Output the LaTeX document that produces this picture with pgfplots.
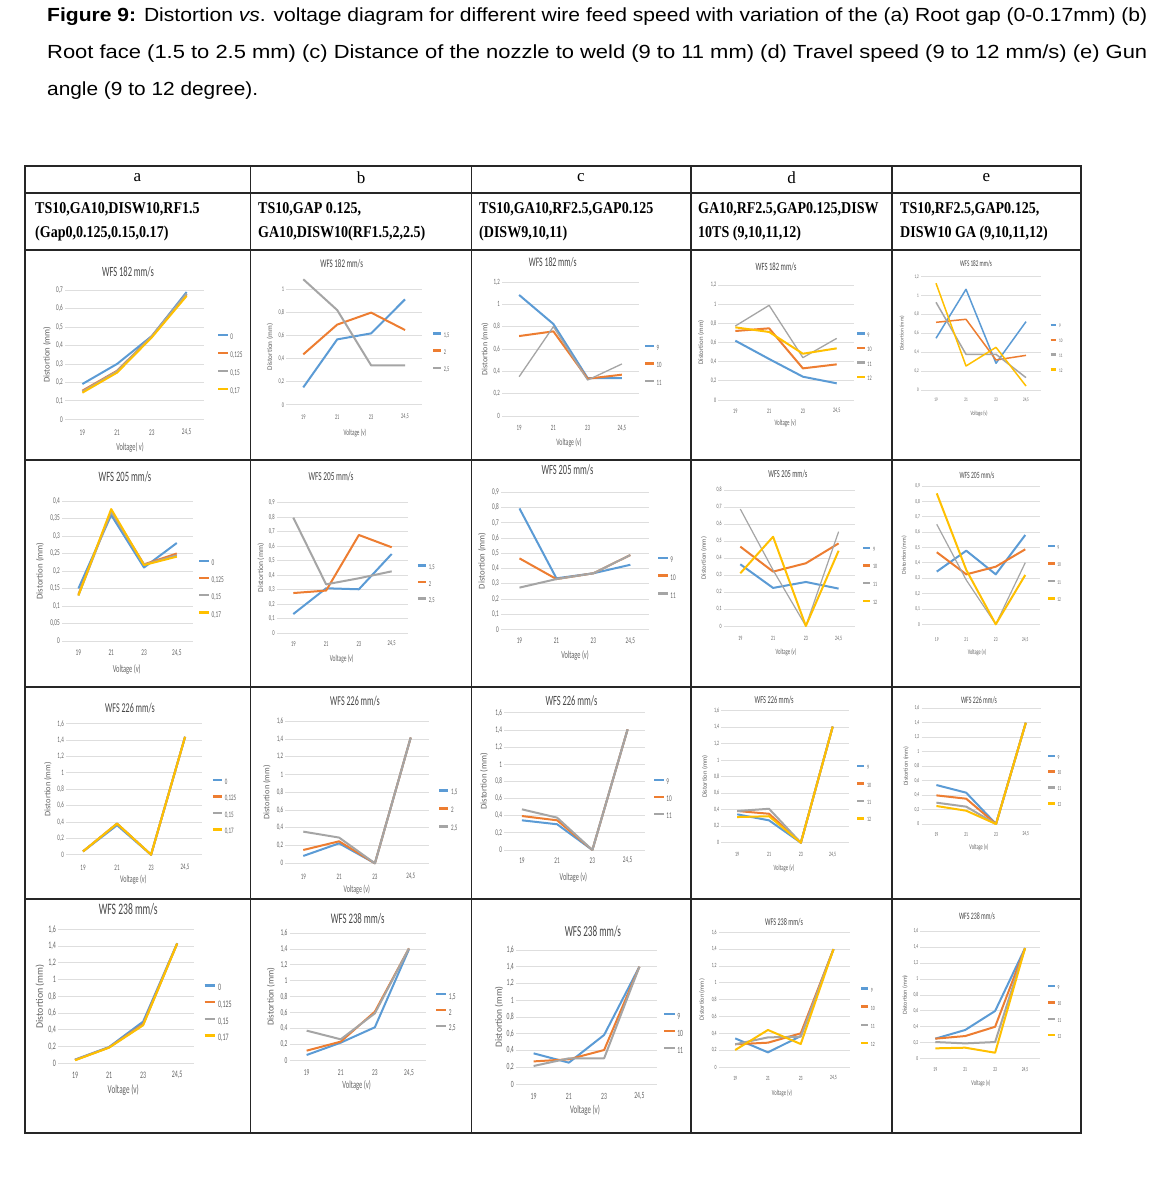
\documentclass[border=0pt]{standalone}
\usepackage{fontspec}
\usepackage{graphicx}
\usepackage{pgfplots}
\pgfplotsset{compat=1.18}
\setmainfont{Liberation Sans}
\newfontfamily\chartfont[FakeStretch=0.6]{Carlito}
\newfontfamily\labfont{Carlito}
\newfontfamily\hdrfont[FakeStretch=0.85]{Liberation Serif}
\newfontfamily\serifreg{Liberation Serif}
\newfontfamily\capfont{Liberation Sans}
\definecolor{xblue}{RGB}{91,155,213}
\definecolor{xorange}{RGB}{237,125,49}
\definecolor{xgray}{RGB}{165,165,165}
\definecolor{xyellow}{RGB}{255,192,0}
\definecolor{tickc}{RGB}{100,100,100}

\newcommand\setchart[6]{%
 \def\cL{#1}\def\cR{#2}\def\cB{#3}\def\cT{#4}\def\cS{#5}%
 \pgfmathsetmacro\cW{#2-#1}\pgfmathsetmacro\cH{#3-#4}%
 \pgfmathsetmacro\cM{(#3+#4)/2}%
 \pgfmathsetmacro\cTick{0.62*#5}%
 \pgfmathsetmacro\cXl{0.75*#5}%
 \pgfmathsetmacro\cYl{0.62*#5}%
 \pgfmathsetmacro\cXs{#6-#3}%
 \pgfmathsetmacro\cTh{0.65*\cTick}\pgfmathsetmacro\cTd{0.15*\cTick}%
 \pgfmathsetmacro\cLl{0.68*#5}\pgfmathsetmacro\cLy{0.28*\cTick}%
}
\newcommand\cleg[3]{%
 \pgfmathsetmacro\lx{(#1-\cL)/\cW}%
 \pgfmathsetmacro\ly{(\cB-(#2-0.4*\cTick))/\cH}%
 \pgfmathsetmacro\lrs{#3-0.8*\cTick}%
}
\newcommand\ctitle[3]{\node[inner sep=0pt,font=\chartfont\fontsize{\cS}{\cS}\selectfont,text=black!72] at (#1pt,-#2pt) {#3};}
\newcommand\cylab[1]{\node[inner sep=0pt,rotate=90,font=\labfont\fontsize{\cYl}{\cYl}\selectfont,text=tickc] at (#1pt,-\cM pt) {Distortion (mm)};}
\newcommand\cxlab[3]{\node[inner sep=0pt,font=\chartfont\fontsize{\cXl}{\cXl}\selectfont,text=tickc] at (#1pt,-#2pt) {#3};}

\pgfplotsset{ch/.style={
  scale only axis, anchor=south west,
  at={(\cL pt,-\cB pt)}, width=\cW pt, height=\cH pt,
  xmin=-0.5, xmax=3.5, ymin=0,
  xtick={0,1,2,3}, xticklabels={19,21,23,{24,5}},
  ymajorgrids, major grid style={draw=black!13, line width=0.7pt},
  axis line style={draw=none}, tick style={draw=none},
  clip=false,
  ticklabel style={font=\chartfont\fontsize{\cTick}{\cTick}\selectfont, text=tickc},
  xticklabel style={anchor=center, yshift=-\cXs pt},
  yticklabel style={anchor=east, inner sep=2pt},
  /pgf/number format/use comma, /pgf/number format/fixed,
  /pgf/number format/precision=2, /pgf/number format/assume math mode=true,
  legend style={at={(\lx,\ly)}, anchor=north west, draw=none, fill=none,
    inner sep=0pt, outer sep=0pt, row sep=\lrs pt, column sep=1.5pt,
    font=\chartfont\fontsize{\cTick}{\cTick}\selectfont, text=tickc,
    nodes={inner sep=0pt, text height=\cTh pt, text depth=\cTd pt}},
  legend cell align=left,
  legend image code/.code={\draw[##1,line width=2.4pt] (0pt,\cLy pt)--(\cLl pt,\cLy pt);},
  every axis plot/.append style={line width=2pt, mark=none, line join=round},
}}

\begin{document}
\begin{tikzpicture}
\useasboundingbox[fill=white] (0pt,0pt) rectangle (1165pt,-1185pt);

% caption
\node[anchor=base west, inner sep=0pt, font=\capfont\fontsize{19}{19}\selectfont] at (47pt,-22pt)
 {\resizebox{1100pt}{\height}{\textbf{Figure 9:} Distortion \textit{vs}. voltage diagram for different wire feed speed with variation of the (a) Root gap (0-0.17mm) (b)}};
\node[anchor=base west, inner sep=0pt, font=\capfont\fontsize{19}{19}\selectfont] at (47pt,-59pt)
 {\resizebox{1100pt}{\height}{Root face (1.5 to 2.5 mm) (c) Distance of the nozzle to weld (9 to 11 mm) (d) Travel speed (9 to 12 mm/s) (e) Gun}};
\node[anchor=base west, inner sep=0pt, font=\capfont\fontsize{19}{19}\selectfont] at (47pt,-96pt)
 {\resizebox{211pt}{\height}{angle (9 to 12 degree).}};

% table
\begin{scope}[line width=1.1pt, draw=black!85]
\draw (25pt,-166pt) rectangle (1081pt,-1133pt);
\foreach \yy in {193,250,460,687,899} \draw (25pt,-\yy pt) -- (1081pt,-\yy pt);
\foreach \xx in {250.5,471.5,691,892} \draw (\xx pt,-166pt) -- (\xx pt,-1133pt);
\end{scope}
\foreach \xx/\tt in {137.5/a,361/b,581/c,791.5/d,986.5/e}
  \node[font=\serifreg\fontsize{17}{17}\selectfont] at (\xx pt,-178pt) {\tt};
\begin{scope}[every node/.style={anchor=base west, inner sep=0pt, font=\hdrfont\bfseries\fontsize{16.5}{16.5}\selectfont}]
\node at (35pt,-213pt) {TS10,GA10,DISW10,RF1.5};
\node at (35pt,-237pt) {(Gap0,0.125,0.15,0.17)};
\node at (258pt,-213pt) {TS10,GAP 0.125,};
\node at (258pt,-237pt) {GA10,DISW10(RF1.5,2,2.5)};
\node at (479pt,-213pt) {TS10,GA10,RF2.5,GAP0.125};
\node at (479pt,-237pt) {(DISW9,10,11)};
\node at (698pt,-213pt) {GA10,RF2.5,GAP0.125,DISW};
\node at (698pt,-237pt) {10TS (9,10,11,12)};
\node at (900pt,-213pt) {TS10,RF2.5,GAP0.125,};
\node at (900pt,-237pt) {DISW10 GA (9,10,11,12)};
\end{scope}

%%%%%%%%%%%%%%%% ROW 1
% a1
\setchart{65}{204}{419.3}{290}{14.1}{432.7}\cleg{217}{337}{18}
\begin{axis}[ch, ymax=0.7, ytick={0,0.1,0.2,0.3,0.4,0.5,0.6,0.7}]
\addplot[xblue] coordinates {(0,0.191)(1,0.300)(2,0.451)(3,0.689)};
\addplot[xorange] coordinates {(0,0.155)(1,0.263)(2,0.450)(3,0.677)};
\addplot[xgray] coordinates {(0,0.150)(1,0.260)(2,0.450)(3,0.680)};
\addplot[xyellow] coordinates {(0,0.144)(1,0.253)(2,0.444)(3,0.668)};
\legend{0,{0,125},{0,15},{0,17}}
\end{axis}
\ctitle{128}{272}{WFS 182 mm/s}\cylab{47}\cxlab{130}{448}{Voltage( v)}

% b1
\setchart{286.3}{422}{404.7}{289.3}{11.6}{416.7}\cleg{432}{335}{17}
\begin{axis}[ch, ymax=1, ytick={0,0.2,0.4,0.6,0.8,1}]
\addplot[xblue] coordinates {(0,0.150)(1,0.566)(2,0.618)(3,0.913)};
\addplot[xorange] coordinates {(0,0.436)(1,0.694)(2,0.798)(3,0.647)};
\addplot[xgray] coordinates {(0,1.087)(1,0.820)(2,0.341)(3,0.341)};
\legend{{1,5},2,{2,5}}
\end{axis}
\ctitle{341.7}{264}{WFS 182 mm/s}\cylab{270}\cxlab{355}{432.7}{Voltage (v)}

% c1
\setchart{502}{639}{416}{282}{13}{428.3}\cleg{644}{348.3}{17}
\begin{axis}[ch, ymax=1.2, ytick={0,0.2,0.4,0.6,0.8,1,1.2}]
\addplot[xblue] coordinates {(0,1.084)(1,0.824)(2,0.340)(3,0.340)};
\addplot[xorange] coordinates {(0,0.716)(1,0.758)(2,0.334)(3,0.370)};
\addplot[xgray, line width=1.3pt] coordinates {(0,0.352)(1,0.800)(2,0.322)(3,0.466)};
\legend{9,10,11}
\end{axis}
\ctitle{552.7}{262.7}{WFS 182 mm/s}\cylab{485}\cxlab{569}{442.7}{Voltage (v)}

% d1
\setchart{718.4}{853.6}{400}{285}{11.1}{411}\cleg{856}{335}{14.2}
\begin{axis}[ch, ymax=1.2, ytick={0,0.2,0.4,0.6,0.8,1,1.2}]
\addplot[xblue] coordinates {(0,0.619)(1,0.428)(2,0.243)(3,0.174)};
\addplot[xorange] coordinates {(0,0.720)(1,0.748)(2,0.330)(3,0.372)};
\addplot[xgray, line width=1.3pt] coordinates {(0,0.772)(1,0.988)(2,0.442)(3,0.643)};
\addplot[xyellow] coordinates {(0,0.758)(1,0.710)(2,0.483)(3,0.539)};
\legend{9,10,11,12}
\end{axis}
\ctitle{776}{267}{WFS 182 mm/s}\cylab{701}\cxlab{785.3}{423.3}{Voltage (v)}

% e1
\setchart{921}{1041}{390}{276.7}{8.7}{400}\cleg{1049.3}{326}{14.2}
\begin{axis}[ch, ymax=1.2, ytick={0,0.2,0.4,0.6,0.8,1,1.2}, every axis plot/.append style={line width=1.5pt}]
\addplot[xblue] coordinates {(0,0.548)(1,1.067)(2,0.283)(3,0.724)};
\addplot[xorange] coordinates {(0,0.717)(1,0.749)(2,0.318)(3,0.367)};
\addplot[xgray] coordinates {(0,0.929)(1,0.378)(2,0.378)(3,0.131)};
\addplot[xyellow] coordinates {(0,1.131)(1,0.254)(2,0.452)(3,0.042)};
\legend{9,10,11,12}
\end{axis}
\ctitle{976}{264}{WFS 182 mm/s}\cylab{902}\cxlab{979}{413.3}{Voltage (v)}

%%%%%%%%%%%%%%%% ROW 2
% a2
\setchart{62}{193.2}{641}{501}{14.3}{652.7}\cleg{198}{563.3}{17}
\begin{axis}[ch, ymax=0.4, ytick={0,0.05,0.1,0.15,0.2,0.25,0.3,0.35,0.4}]
\addplot[xblue] coordinates {(0,0.150)(1,0.360)(2,0.210)(3,0.280)};
\addplot[xorange] coordinates {(0,0.133)(1,0.371)(2,0.219)(3,0.250)};
\addplot[xgray] coordinates {(0,0.130)(1,0.370)(2,0.218)(3,0.245)};
\addplot[xyellow] coordinates {(0,0.130)(1,0.377)(2,0.217)(3,0.241)};
\legend{0,{0,125},{0,15},{0,17}}
\end{axis}
\ctitle{125}{477.3}{WFS 205 mm/s}\cylab{40}\cxlab{126.7}{669.3}{Voltage (v)}

% b2
\setchart{276.9}{408.1}{633}{502.7}{12.2}{644}\cleg{416.7}{567.3}{16.3}
\begin{axis}[ch, ymax=0.9, ytick={0,0.1,0.2,0.3,0.4,0.5,0.6,0.7,0.8,0.9}]
\addplot[xblue] coordinates {(0,0.131)(1,0.309)(2,0.302)(3,0.546)};
\addplot[xorange] coordinates {(0,0.276)(1,0.293)(2,0.677)(3,0.592)};
\addplot[xgray] coordinates {(0,0.797)(1,0.336)(2,0.378)(3,0.426)};
\legend{{1,5},2,{2,5}}
\end{axis}
\ctitle{331}{476.7}{WFS 205 mm/s}\cylab{261}\cxlab{341.7}{659}{Voltage (v)}

% c2
\setchart{501}{648.8}{629.3}{492.3}{14.1}{641}\cleg{657}{560}{17.7}
\begin{axis}[ch, ymax=0.9, ytick={0,0.1,0.2,0.3,0.4,0.5,0.6,0.7,0.8,0.9}]
\addplot[xblue] coordinates {(0,0.794)(1,0.335)(2,0.368)(3,0.424)};
\addplot[xorange] coordinates {(0,0.466)(1,0.330)(2,0.368)(3,0.488)};
\addplot[xgray] coordinates {(0,0.274)(1,0.330)(2,0.368)(3,0.488)};
\legend{9,10,11}
\end{axis}
\ctitle{567.5}{470}{WFS 205 mm/s}\cylab{482}\cxlab{575}{656}{Voltage (v)}

% d2
\setchart{723.9}{855}{626}{490}{10.6}{638.7}\cleg{862}{549.3}{17.2}
\begin{axis}[ch, ymax=0.8, ytick={0,0.1,0.2,0.3,0.4,0.5,0.6,0.7,0.8}]
\addplot[xblue] coordinates {(0,0.363)(1,0.224)(2,0.259)(3,0.220)};
\addplot[xorange] coordinates {(0,0.467)(1,0.320)(2,0.369)(3,0.486)};
\addplot[xgray, line width=1.2pt] coordinates {(0,0.688)(1,0.329)(2,0)(3,0.555)};
\addplot[xyellow] coordinates {(0,0.310)(1,0.525)(2,0)(3,0.443)};
\legend{9,10,11,12}
\end{axis}
\ctitle{787.9}{474}{WFS 205 mm/s}\cylab{704}\cxlab{786}{652.7}{Voltage (v)}

% e2
\setchart{922}{1040}{624.3}{486}{9.5}{640}\cleg{1047}{547.3}{17}
\begin{axis}[ch, ymax=0.9, ytick={0,0.1,0.2,0.3,0.4,0.5,0.6,0.7,0.8,0.9}]
\addplot[xblue] coordinates {(0,0.343)(1,0.479)(2,0.325)(3,0.581)};
\addplot[xorange] coordinates {(0,0.469)(1,0.325)(2,0.375)(3,0.488)};
\addplot[xgray, line width=1.2pt] coordinates {(0,0.651)(1,0.288)(2,0)(3,0.401)};
\addplot[xyellow] coordinates {(0,0.852)(1,0.354)(2,0)(3,0.321)};
\legend{9,10,11,12}
\end{axis}
\ctitle{977}{475}{WFS 205 mm/s}\cylab{904}\cxlab{977}{652.7}{Voltage (v)}

%%%%%%%%%%%%%%%% ROW 3
% a3
\setchart{66}{202.1}{854.7}{723.7}{13.5}{867.7}\cleg{211.7}{782}{16.3}
\begin{axis}[ch, ymax=1.6, ytick={0,0.2,0.4,0.6,0.8,1,1.2,1.4,1.6}]
\addplot[xblue] coordinates {(0,0.040)(1,0.360)(2,0)(3,1.440)};
\addplot[xorange] coordinates {(0,0.040)(1,0.380)(2,0)(3,1.440)};
\addplot[xgray] coordinates {(0,0.040)(1,0.380)(2,0)(3,1.440)};
\addplot[xyellow] coordinates {(0,0.040)(1,0.380)(2,0)(3,1.440)};
\legend{0,{0,125},{0,15},{0,17}}
\end{axis}
\ctitle{130}{707.7}{WFS 226 mm/s}\cylab{48}\cxlab{133.3}{879.3}{Voltage (v)}

% b3
\setchart{285.4}{428.6}{863.3}{721.3}{13.5}{876.7}\cleg{438}{792.7}{17.7}
\begin{axis}[ch, ymax=1.6, ytick={0,0.2,0.4,0.6,0.8,1,1.2,1.4,1.6}]
\addplot[xblue] coordinates {(0,0.083)(1,0.225)(2,0)(3,1.417)};
\addplot[xorange] coordinates {(0,0.150)(1,0.248)(2,0)(3,1.417)};
\addplot[xgray] coordinates {(0,0.357)(1,0.290)(2,0)(3,1.417)};
\legend{{1,5},2,{2,5}}
\end{axis}
\ctitle{355}{701}{WFS 226 mm/s}\cylab{267}\cxlab{356.7}{890}{Voltage (v)}

% c3
\setchart{504.3}{645.2}{850}{712.7}{14.1}{860.3}\cleg{653}{782}{17}
\begin{axis}[ch, ymax=1.6, ytick={0,0.2,0.4,0.6,0.8,1,1.2,1.4,1.6}]
\addplot[xblue] coordinates {(0,0.346)(1,0.300)(2,0)(3,1.406)};
\addplot[xorange] coordinates {(0,0.396)(1,0.346)(2,0)(3,1.406)};
\addplot[xgray] coordinates {(0,0.474)(1,0.377)(2,0)(3,1.406)};
\legend{9,10,11}
\end{axis}
\ctitle{571.4}{701}{WFS 226 mm/s}\cylab{484}\cxlab{573.4}{877.7}{Voltage (v)}

% d3
\setchart{721.3}{848.6}{842.7}{710.3}{10.6}{854.3}\cleg{856}{767.7}{17}
\begin{axis}[ch, ymax=1.6, ytick={0,0.2,0.4,0.6,0.8,1,1.2,1.4,1.6}]
\addplot[xblue] coordinates {(0,0.343)(1,0.270)(2,0)(3,1.403)};
\addplot[xorange] coordinates {(0,0.383)(1,0.350)(2,0)(3,1.403)};
\addplot[xgray] coordinates {(0,0.383)(1,0.410)(2,0)(3,1.403)};
\addplot[xyellow] coordinates {(0,0.310)(1,0.320)(2,0)(3,1.403)};
\legend{9,10,11,12}
\end{axis}
\ctitle{774.2}{700}{WFS 226 mm/s}\cylab{705}\cxlab{784}{868.7}{Voltage (v)}

% e3
\setchart{921.5}{1040.7}{824}{708.3}{9.8}{834.3}\cleg{1047}{757}{15.4}
\begin{axis}[ch, ymax=1.6, ytick={0,0.2,0.4,0.6,0.8,1,1.2,1.4,1.6}]
\addplot[xblue] coordinates {(0,0.539)(1,0.433)(2,0)(3,1.400)};
\addplot[xorange] coordinates {(0,0.396)(1,0.350)(2,0)(3,1.400)};
\addplot[xgray] coordinates {(0,0.295)(1,0.240)(2,0)(3,1.400)};
\addplot[xyellow] coordinates {(0,0.249)(1,0.184)(2,0)(3,1.400)};
\legend{9,10,11,12}
\end{axis}
\ctitle{979}{700}{WFS 226 mm/s}\cylab{906}\cxlab{979}{847.7}{Voltage (v)}

%%%%%%%%%%%%%%%% ROW 4
% a4
\setchart{58}{194.2}{1063.3}{929.3}{16}{1075}\cleg{203.3}{988.3}{16.7}
\begin{axis}[ch, ymax=1.6, ytick={0,0.2,0.4,0.6,0.8,1,1.2,1.4,1.6}]
\addplot[xblue] coordinates {(0,0.044)(1,0.195)(2,0.498)(3,1.434)};
\addplot[xorange] coordinates {(0,0.040)(1,0.190)(2,0.470)(3,1.430)};
\addplot[xgray] coordinates {(0,0.040)(1,0.190)(2,0.460)(3,1.430)};
\addplot[xyellow] coordinates {(0,0.036)(1,0.187)(2,0.454)(3,1.430)};
\legend{0,{0,125},{0,15},{0,17}}
\end{axis}
\ctitle{128.3}{909.3}{WFS 238 mm/s}\cylab{40}\cxlab{123.3}{1090}{Voltage (v)}

% b4
\setchart{289.6}{426}{1060.3}{933}{14.6}{1072.7}\cleg{435}{996.7}{15.8}
\begin{axis}[ch, ymax=1.6, ytick={0,0.2,0.4,0.6,0.8,1,1.2,1.4,1.6}]
\addplot[xblue] coordinates {(0,0.067)(1,0.222)(2,0.415)(3,1.395)};
\addplot[xorange] coordinates {(0,0.121)(1,0.235)(2,0.611)(3,1.407)};
\addplot[xgray] coordinates {(0,0.373)(1,0.264)(2,0.590)(3,1.407)};
\legend{{1,5},2,{2,5}}
\end{axis}
\ctitle{357.7}{918.3}{WFS 238 mm/s}\cylab{271}\cxlab{356.7}{1085}{Voltage (v)}

% c4
\setchart{516}{657}{1084}{950}{15.3}{1096}\cleg{663}{1016.7}{17}
\begin{axis}[ch, ymax=1.6, ytick={0,0.2,0.4,0.6,0.8,1,1.2,1.4,1.6}]
\addplot[xblue] coordinates {(0,0.366)(1,0.255)(2,0.586)(3,1.400)};
\addplot[xorange] coordinates {(0,0.270)(1,0.295)(2,0.406)(3,1.400)};
\addplot[xgray] coordinates {(0,0.215)(1,0.307)(2,0.307)(3,1.400)};
\legend{9,10,11}
\end{axis}
\ctitle{592.9}{931.7}{WFS 238 mm/s}\cylab{499}\cxlab{585}{1110.7}{Voltage (v)}

% d4
\setchart{718.8}{849.9}{1067}{932.3}{10.3}{1078.3}\cleg{860}{990}{17.6}
\begin{axis}[ch, ymax=1.6, ytick={0,0.2,0.4,0.6,0.8,1,1.2,1.4,1.6}]
\addplot[xblue] coordinates {(0,0.340)(1,0.174)(2,0.368)(3,1.400)};
\addplot[xorange] coordinates {(0,0.270)(1,0.289)(2,0.400)(3,1.400)};
\addplot[xgray] coordinates {(0,0.270)(1,0.352)(2,0.360)(3,1.400)};
\addplot[xyellow] coordinates {(0,0.202)(1,0.440)(2,0.273)(3,1.400)};
\legend{9,10,11,12}
\end{axis}
\ctitle{784}{921.7}{WFS 238 mm/s}\cylab{702}\cxlab{782}{1093.3}{Voltage (v)}

% e4
\setchart{920.3}{1040}{1058.7}{931}{9.8}{1070}\cleg{1047}{987.3}{15.9}
\begin{axis}[ch, ymax=1.6, ytick={0,0.2,0.4,0.6,0.8,1,1.2,1.4,1.6}]
\addplot[xblue] coordinates {(0,0.251)(1,0.360)(2,0.598)(3,1.385)};
\addplot[xorange] coordinates {(0,0.251)(1,0.284)(2,0.400)(3,1.385)};
\addplot[xgray] coordinates {(0,0.209)(1,0.192)(2,0.209)(3,1.385)};
\addplot[xyellow] coordinates {(0,0.130)(1,0.138)(2,0.075)(3,1.385)};
\legend{9,10,11,12}
\end{axis}
\ctitle{977}{916.7}{WFS 238 mm/s}\cylab{905}\cxlab{981}{1083.3}{Voltage (v)}

\end{tikzpicture}
\end{document}
